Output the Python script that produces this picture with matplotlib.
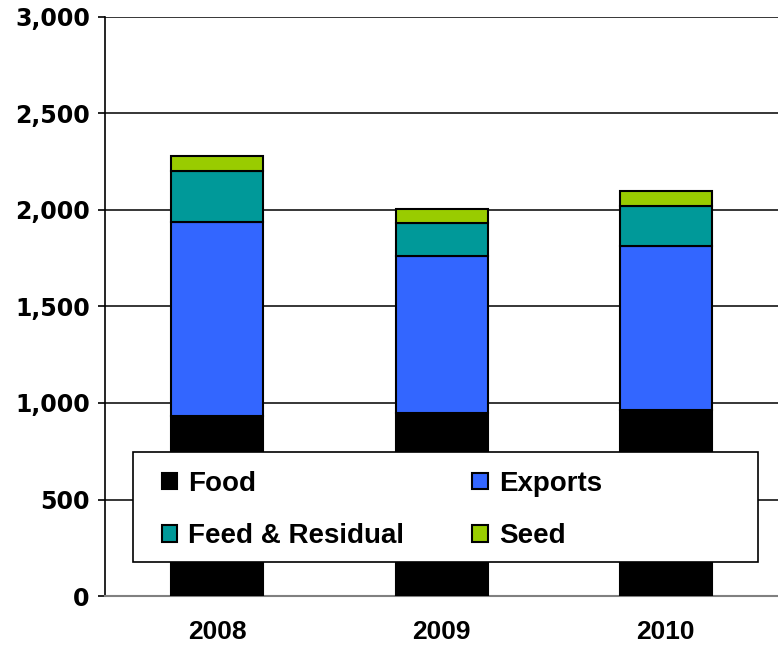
import numpy as np
import matplotlib
matplotlib.use("Agg")
import matplotlib.pyplot as plt
from matplotlib.patches import Rectangle

years = ["2008", "2009", "2010"]
food = [935, 948, 964]
exports = [1005, 814, 849]
feed = [260, 171, 208]
seed = [80, 72, 77]

W, H = 778, 650
fig = plt.figure(figsize=(W / 100, H / 100), dpi=100)
ax = fig.add_axes([0.135, 0.083, 0.865, 0.891])

x = np.arange(len(years))
w = 0.41
bottom = np.zeros(len(years))
bars = []
for vals, col, lab in [(food, "#000000", "Food"), (exports, "#3366FF", "Exports"),
                       (feed, "#009999", "Feed & Residual"), (seed, "#99CC00", "Seed")]:
    b = ax.bar(x, vals, w, bottom=bottom, color=col, edgecolor="black",
               linewidth=1.5, label=lab, zorder=3)
    bars.append(b)
    bottom += np.array(vals)

ax.set_xlim(-0.5, 2.5)
ax.set_ylim(0, 3000)
ax.set_yticks(range(0, 3001, 500))
ax.set_yticklabels([f"{v:,}" for v in range(0, 3001, 500)],
                   fontfamily="DejaVu Sans", fontweight="bold", fontsize=17)
ax.set_xticks(x)
ax.set_xticklabels(years, fontfamily="Liberation Sans", fontweight="bold", fontsize=19)
ax.tick_params(axis="x", length=0, pad=17)
ax.tick_params(axis="y", length=5, width=1.2, color="black", pad=6)
ax.yaxis.grid(True, color="black", linewidth=1.1, zorder=0)
ax.set_axisbelow(True)
for s in ["top", "right"]:
    ax.spines[s].set_visible(False)
ax.spines["left"].set_color("black")
ax.spines["left"].set_linewidth(1.2)
ax.spines["bottom"].set_color("#808080")
ax.spines["bottom"].set_linewidth(1.5)

# legend frame drawn by hand, legend itself without frame
frame = Rectangle((133 / W, 1 - 562 / H), 625 / W, 110 / H, transform=fig.transFigure,
                  facecolor="white", edgecolor="black", linewidth=1.2, zorder=4,
                  clip_on=False)
ax.add_patch(frame)

# legend fills columns first, so order items to get Food/Exports on top row
handles = [bars[0], bars[2], bars[1], bars[3]]
labels = ["Food", "Feed & Residual", "Exports", "Seed"]
leg = ax.legend(handles, labels, ncol=2, loc="upper left",
                bbox_to_anchor=(148 / W, 1 - 457 / H), bbox_transform=fig.transFigure,
                prop={"family": "Liberation Sans", "weight": "bold", "size": 20},
                handlelength=0.55, handleheight=0.55, handletextpad=0.4,
                labelspacing=0.95, columnspacing=2.45, borderpad=0, frameon=False)
leg.set_zorder(5)

fig.savefig("out.png", dpi=100)
